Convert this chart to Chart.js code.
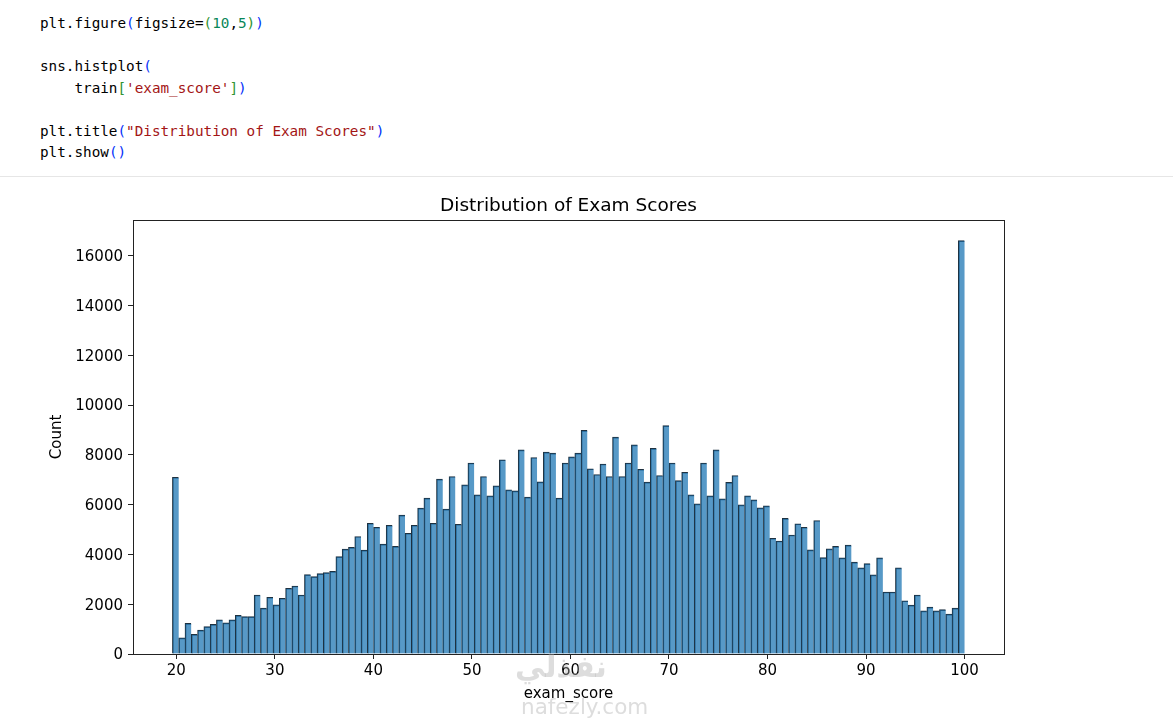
<!DOCTYPE html>
<html>
<head>
<meta charset="utf-8">
<script src="https://cdn.jsdelivr.net/npm/chart.js@4.4.1/dist/chart.umd.min.js"></script>
<style>
  body { margin: 0; background: #fff; width: 1173px; height: 719px; overflow: hidden; position: relative; }
  pre.code { position: absolute; left: 40px; top: 13.25px; margin: 0; font-family: "DejaVu Sans Mono", monospace; font-size: 14.3px; line-height: 21.5px; color: #000; }
  .b1 { color: #0431fa; }
  .b2 { color: #319331; }
  .num { color: #098658; }
  .str { color: #a31515; }
  .sep { position: absolute; left: 0; top: 176px; width: 1173px; height: 1px; background: #e6e6e6; }
  #wrap { position: absolute; left: 0; top: 180px; width: 1173px; height: 539px; }
  .wm { position: absolute; font-family: "DejaVu Sans", sans-serif; color: rgba(170,170,170,0.4); white-space: nowrap; }
</style>
</head>
<body>
<pre class="code">plt.figure<span class="b1">(</span>figsize=<span class="b2">(</span><span class="num">10</span>,<span class="num">5</span><span class="b2">)</span><span class="b1">)</span>

sns.histplot<span class="b1">(</span>
    train<span class="b2">[</span><span class="str">'exam_score'</span><span class="b2">]</span><span class="b1">)</span>

plt.title<span class="b1">(</span><span class="str">"Distribution of Exam Scores"</span><span class="b1">)</span>
plt.show<span class="b1">()</span></pre>
<div class="sep"></div>
<div id="wrap"><canvas id="hist" width="1173" height="539"></canvas></div>
<div class="wm" style="left:515px; top:649px; font-size:30px; font-weight:bold;">نفذلي</div>
<div class="wm" style="left:521px; top:694px; font-size:21.5px;">nafezly.com</div>
<script>
// counts per bin (126 bins between 19.6 and 100)
const scoreCounts = [
  7100, 650, 1230, 790, 960, 1100, 1190, 1370, 1250, 1370,
  1550, 1500, 1500, 2370, 1840, 2280, 1970, 2240, 2640, 2730,
  2370, 3190, 3110, 3230, 3270, 3320, 3910, 4210, 4280, 4720,
  4170, 5250, 5090, 4410, 5170, 4320, 5580, 4850, 5170, 5860,
  6260, 5250, 7020, 5820, 7130, 5210, 6790, 7670, 6390, 7130,
  6350, 6750, 7800, 6590, 6550, 8200, 6300, 7890, 6910, 8110,
  8070, 6260, 7670, 7920, 8070, 8980, 7440, 7210, 7630, 7130,
  8710, 7130, 7670, 8400, 7420, 6900, 8260, 7170, 9170, 7670,
  6960, 7300, 6390, 6030, 7670, 6350, 8200, 6230, 6890, 7170,
  5990, 6350, 6190, 5870, 5950, 4650, 4540, 5450, 4780, 5230,
  5090, 4180, 5360, 3870, 4220, 4320, 3860, 4370, 3690, 3460,
  3630, 3180, 3860, 2490, 2490, 3460, 2140, 1960, 2370, 1730,
  1880, 1730, 1780, 1600, 1840, 16600
];
const binStart = 19.6;
const binEnd = 100;
const xTickValues = [20, 30, 40, 50, 60, 70, 80, 90, 100];
const yTickValues = [0, 2000, 4000, 6000, 8000, 10000, 12000, 14000, 16000];

const binWidth = (binEnd - binStart) / scoreCounts.length;
const points = scoreCounts.map((c, i) => ({ x: binStart + (i + 0.5) * binWidth, y: c }));

const FONT = '"DejaVu Sans", sans-serif';

// matplotlib-style box around the axes
const frame = {
  id: 'frame',
  afterDraw(chart) {
    const { ctx, chartArea: a } = chart;
    ctx.save();
    ctx.strokeStyle = '#222';
    ctx.lineWidth = 1;
    ctx.strokeRect(Math.round(a.left) + 0.5, Math.round(a.top) + 0.5,
                   Math.round(a.right - a.left), Math.round(a.bottom - a.top));
    ctx.restore();
  }
};

const tickGrid = { display: true, drawOnChartArea: false, drawTicks: true, tickLength: 5, tickColor: '#222', tickWidth: 1, offset: false };

new Chart(document.getElementById('hist'), {
  type: 'bar',
  data: {
    datasets: [{
      data: points,
      backgroundColor: 'rgba(31,119,180,0.75)',
      borderColor: '#1e3140',
      borderWidth: { top: 1, left: 1, right: 0, bottom: 0 },
      borderSkipped: false,
      barPercentage: 1,
      categoryPercentage: 1
    }]
  },
  options: {
    responsive: false,
    animation: false,
    devicePixelRatio: 1,
    layout: { padding: { left: 0, right: 169, top: 0, bottom: 0 } },
    plugins: {
      legend: { display: false },
      tooltip: { enabled: false },
      title: {
        display: true,
        fullSize: false,
        text: 'Distribution of Exam Scores',
        color: '#000',
        font: { family: FONT, size: 18.5, weight: 'normal', lineHeight: 1.2 },
        padding: { top: 15, bottom: 2.8 }
      }
    },
    scales: {
      x: {
        type: 'linear',
        min: 15.6,
        max: 104,
        offset: false,
        grid: tickGrid,
        border: { display: false },
        afterBuildTicks: s => { s.ticks = xTickValues.map(v => ({ value: v })); },
        afterFit: s => { s.height = 65; },
        ticks: {
          color: '#000', padding: 3, maxRotation: 0, autoSkip: false,
          font: { family: FONT, size: 15, lineHeight: 1.2 },
          callback: v => String(v)
        },
        title: {
          display: true, text: 'exam_score', color: '#000',
          font: { family: FONT, size: 15, lineHeight: 1.2 },
          padding: { top: 0, bottom: 16 }
        }
      },
      y: {
        min: 0,
        max: 17430,
        grid: tickGrid,
        border: { display: false },
        afterBuildTicks: s => { s.ticks = yTickValues.map(v => ({ value: v })); },
        afterFit: s => { s.width = 133; },
        ticks: {
          color: '#000', padding: 5, autoSkip: false, labelOffset: 1.5,
          font: { family: FONT, size: 15, lineHeight: 1.2 },
          callback: v => String(v)
        },
        title: {
          display: true, text: 'Count', color: '#000',
          font: { family: FONT, size: 15, lineHeight: 1.2 },
          padding: { top: 48, bottom: 0 }
        }
      }
    }
  },
  plugins: [frame]
});
</script>
</body>
</html>
